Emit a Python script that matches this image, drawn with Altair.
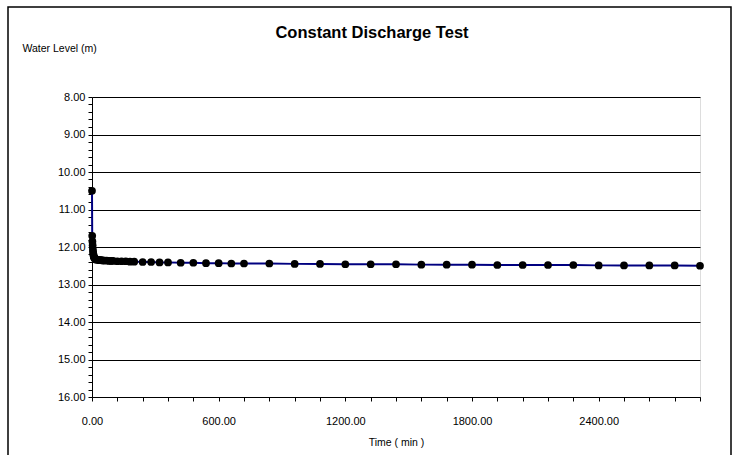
import altair as alt
import pandas as pd

# Time since pumping start (minutes)
time_min = [0, 1, 2, 3, 4, 5, 6, 7, 8, 9, 10, 12, 14, 16, 18, 20, 25, 30, 35, 40, 45,
            50, 55, 60, 70, 80, 90, 100, 120, 140, 160, 180, 200, 240, 280, 320, 360,
            420, 480, 540, 600, 660, 720, 840, 960, 1080, 1200, 1320, 1440, 1560,
            1680, 1800, 1920, 2040, 2160, 2280, 2400, 2520, 2640, 2760, 2880]
# Water level below datum (m)
water_level = [10.50, 11.70, 11.85, 11.95, 12.05, 12.12, 12.17, 12.21, 12.24, 12.26,
               12.28, 12.30, 12.31, 12.32, 12.33, 12.33, 12.34, 12.34, 12.35, 12.35,
               12.35, 12.36, 12.36, 12.36, 12.36, 12.37, 12.37, 12.37, 12.38, 12.38,
               12.38, 12.39, 12.39, 12.40, 12.40, 12.41, 12.41, 12.42, 12.42, 12.43,
               12.43, 12.44, 12.44, 12.44, 12.45, 12.45, 12.46, 12.46, 12.46, 12.47,
               12.47, 12.47, 12.48, 12.48, 12.48, 12.48, 12.49, 12.49, 12.49, 12.49,
               12.50]

y_tick_values = [round(8 + 0.2 * i, 1) for i in range(41)]
x_tick_values = list(range(0, 2881, 120))

df = pd.DataFrame({"t": time_min, "wl": water_level})

FONT = "Liberation Sans, Arial, sans-serif"
major_y = "abs(datum.value - round(datum.value)) < 0.001"
major_x = "datum.value % 600 === 0"

x_enc = alt.X(
    "t:Q",
    scale=alt.Scale(domain=[0, 2880], nice=False, zero=False),
    axis=alt.Axis(
        values=x_tick_values,
        tickCount=200,
        title="Time ( min )",
        labelExpr=f"{major_x} ? format(datum.value, '.2f') : ''",
        labelOverlap=False,
        labelFlush=False,
        labelBound=False,
        grid=False,
        domainColor="black",
        tickColor="black",
        tickSize=4,
        labelPadding=14,
        titlePadding=11,
        labelFont=FONT,
        labelFontSize=11,
        labelColor="black",
        titleFont=FONT,
        titleFontSize=10.5,
        titleFontWeight="normal",
        titleColor="black",
    ),
)

y_enc = alt.Y(
    "wl:Q",
    scale=alt.Scale(domain=[8, 16], reverse=True, nice=False, zero=False),
    axis=alt.Axis(
        values=y_tick_values,
        tickCount=200,
        title="Water Level (m)",
        titleAngle=0,
        titleAlign="left",
        titleBaseline="middle",
        titleX=-70,
        titleY=-49,
        labelExpr=f"{major_y} ? format(datum.value, '.2f') : ''",
        labelOverlap=False,
        labelFlush=False,
        labelBound=False,
        grid=True,
        gridColor="black",
        gridWidth=1,
        gridOpacity={"condition": {"test": major_y, "value": 1}, "value": 0},
        domainColor="black",
        tickColor="black",
        tickSize=4,
        labelPadding=3,
        labelFont=FONT,
        labelFontSize=11,
        labelColor="black",
        titleFont=FONT,
        titleFontSize=10.5,
        titleFontWeight="normal",
        titleColor="black",
    ),
)

base = alt.Chart(df)

line = base.mark_line(color="#000080", strokeWidth=2).encode(x=x_enc, y=y_enc)
points = base.mark_circle(color="black", size=60, opacity=1).encode(x="t:Q", y="wl:Q")

frame = alt.Chart(alt.Data(values=[{}])).mark_rect(
    fill=None, stroke="black", strokeWidth=1.5
).encode(
    x=alt.value(-84), x2=alt.value(639), y=alt.value(-90), y2=alt.value(400)
)

chart = alt.layer(frame, line, points).properties(
    width=608,
    height=300,
    autosize=alt.AutoSizeParams(type="none"),
    padding={"left": 92, "top": 97, "right": 37, "bottom": 58},
    title=alt.TitleParams(
        "Constant Discharge Test",
        font=FONT,
        fontSize=16.5,
        fontWeight="bold",
        color="black",
        anchor="middle",
        dx=-24,
        offset=-35,
    ),
).configure_view(
    stroke="black", strokeWidth=1
).configure(
    background="white"
)

chart.save("out.html", embed_options={"renderer": "svg", "actions": False})
